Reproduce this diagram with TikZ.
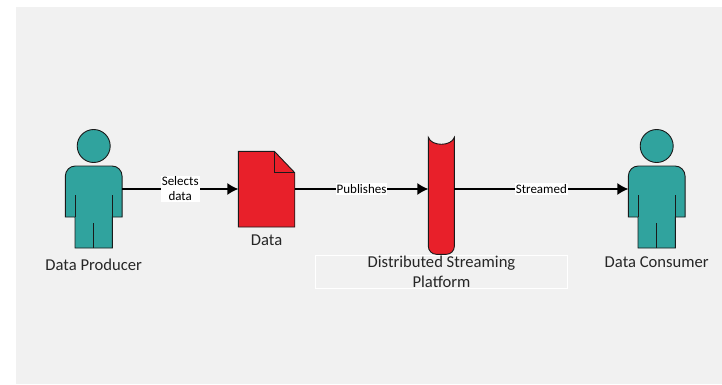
\documentclass[tikz,border=0pt]{standalone}
\usepackage{fontspec}
\setmainfont{Carlito}
\usepackage{xcolor}
\usetikzlibrary{positioning,arrows.meta}
\definecolor{bggray}{HTML}{F1F1F1}
\definecolor{tealfill}{HTML}{30A39E}
\definecolor{redfill}{HTML}{E8202A}
\definecolor{edgedark}{HTML}{1A1A1A}
\tikzset{
  anchorbox/.style={inner sep=0pt,outer sep=0pt},
  flow/.style={-{Latex[length=11pt,width=12pt]},line width=1.3pt},
  flowlabel/.style={fill=white,inner sep=1pt,font=\fontsize{13}{15}\selectfont,align=center},
  caption/.style={inner sep=0pt,font=\fontsize{16.6}{20}\selectfont,align=center,text=black!85},
  person/.pic={
    \draw[fill=tealfill,draw=edgedark,line width=.9pt] (0,43) circle (16.5);
    \draw[fill=tealfill,draw=edgedark,line width=.9pt] (-28.35,-28) [rounded corners=10pt] -- (-28.35,23) -- (28.35,23) [sharp corners] -- (28.35,-28) -- (18.7,-28) -- (18.7,-59) -- (-18.7,-59) -- (-18.7,-28) -- cycle;
    \draw[draw=edgedark,line width=.9pt] (-18.7,-28) -- (-18.7,-6) (18.7,-28) -- (18.7,-6) (0,-59) -- (0,-33.7);
  },
  document/.pic={
    \draw[fill=redfill,draw=edgedark,line width=.9pt] (-28.2,-38) -- (-28.2,37.7) -- (7.8,37.7) -- (28.2,16.3) -- (28.2,-38) -- cycle;
    \draw[draw=edgedark,line width=.9pt] (7.8,37.7) -- (7.8,16.3) -- (28.2,16.3);
  },
  platform/.pic={
    \draw[fill=redfill,draw=edgedark,line width=.9pt] (13,51.7) .. controls (10,42.4) and (-10,42.4) .. (-13,51.7) [rounded corners=8pt] -- (-13,-65.3) -- (13,-65.3) [sharp corners] -- cycle;
  }
}
\begin{document}
\begin{tikzpicture}[x=1pt,y=1pt]
\useasboundingbox (0,0) rectangle (722,384);
\fill[bggray] (16,0) rectangle (722,377);

\node[anchorbox,minimum width=56.7pt,minimum height=46pt] (producer) at (93.7,195) {};
\node[anchorbox,minimum width=56.4pt,minimum height=46pt,right=116.3pt of producer] (data) {};
\node[anchorbox,minimum width=26pt,minimum height=46pt,right=133.6pt of data] (streaming) {};
\node[anchorbox,minimum width=56.7pt,minimum height=46pt,right=174pt of streaming] (consumer) {};

\pic at (producer) {person};
\pic at (consumer) {person};
\pic at (data) {document};
\pic at (streaming) {platform};

\path[flow] (producer) edge node[flowlabel] {Selects\\data} (data);
\path[flow] (data) edge node[flowlabel] {Publishes} (streaming);
\path[flow] (streaming) edge node[flowlabel] {Streamed} (consumer);

\node[caption,below=47pt of producer] (producertext) {Data Producer};
\node[caption,below=22.5pt of data] (datatext) {Data};
\node[caption,below=45pt of consumer] (consumertext) {Data Consumer};
\node[caption,draw=white,line width=.8pt,minimum width=252.4pt,minimum height=33pt] (streamingtext) at (441.5,112.5) {Distributed Streaming\\Platform};
\end{tikzpicture}
\end{document}
